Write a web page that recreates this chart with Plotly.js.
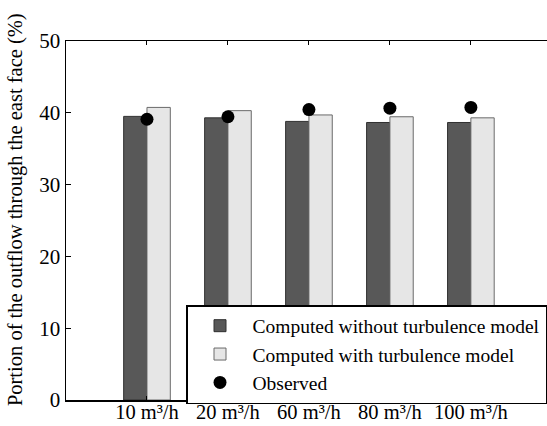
<!DOCTYPE html>
<html>
<head>
<meta charset="utf-8">
<script src="https://cdn.plot.ly/plotly-3.0.1.min.js"></script>
<style>html,body{margin:0;padding:0;background:#fff;}#chart{width:547px;height:426px;}</style>
</head>
<body>
<div id="chart"></div>
<script>
const categories = ['10 m³/h', '20 m³/h', '60 m³/h', '80 m³/h', '100 m³/h'];
const positions = [1, 2, 3, 4, 5];
const withoutTurbulence = [39.5, 39.3, 38.8, 38.65, 38.65];
const withTurbulence = [40.75, 40.3, 39.7, 39.45, 39.3];
const observed = [39.1, 39.45, 40.45, 40.65, 40.75];
const yTicks = [0, 10, 20, 30, 40, 50];

const FAMILY = 'Liberation Serif';

const traces = [
  {type: 'bar', x: positions, y: withoutTurbulence, name: 'Computed without turbulence model',
   marker: {color: '#585858', line: {color: '#303030', width: 1}}},
  {type: 'bar', x: positions, y: withTurbulence, name: 'Computed with turbulence model',
   marker: {color: '#e6e6e6', line: {color: '#6a6a6a', width: 1}}},
  {type: 'scatter', mode: 'markers', x: positions, y: observed, name: 'Observed',
   marker: {color: '#000', size: 13}}
];

const layout = {
  width: 547, height: 426,
  margin: {l: 66, r: 0, t: 41, b: 26},
  paper_bgcolor: '#fff', plot_bgcolor: '#fff',
  font: {family: FAMILY, size: 21, color: '#000'},
  barmode: 'group', bargap: 0.424, bargroupgap: 0,
  showlegend: true,
  xaxis: {
    range: [0, 5.94], tickvals: positions, ticktext: categories,
    showline: true, linecolor: '#000', linewidth: 1.5, mirror: 'ticks',
    ticks: 'inside', ticklen: 4, tickcolor: '#000', tickwidth: 1,
    showgrid: false, zeroline: false, ticklabelstandoff: -7, tickangle: 0,
    tickfont: {family: FAMILY, size: 20.5, color: '#000'}
  },
  yaxis: {
    range: [0, 50], tickvals: yTicks,
    showline: true, linecolor: '#000', linewidth: 1.5,
    ticks: 'inside', ticklen: 5, tickcolor: '#000', tickwidth: 1,
    showgrid: false, zeroline: false,
    tickfont: {family: FAMILY, size: 21, color: '#000'}
  },
  legend: {
    x: 1, xanchor: 'right', y: 0.2646, yanchor: 'top',
    bgcolor: '#fff', bordercolor: '#000', borderwidth: 1.5,
    font: {family: FAMILY, size: 19.5, color: '#000'},
    traceorder: 'normal', tracegroupgap: 0, itemwidth: 55
  },
  annotations: [{
    text: 'Portion of the outflow through the east face (%)',
    xref: 'paper', yref: 'paper', x: -0.106, y: 0.529,
    xanchor: 'center', yanchor: 'middle', textangle: -90, showarrow: false,
    font: {family: FAMILY, size: 20.5, color: '#000'}
  }]
};

Plotly.newPlot('chart', traces, layout, {displayModeBar: false, staticPlot: true});
</script>
</body>
</html>
